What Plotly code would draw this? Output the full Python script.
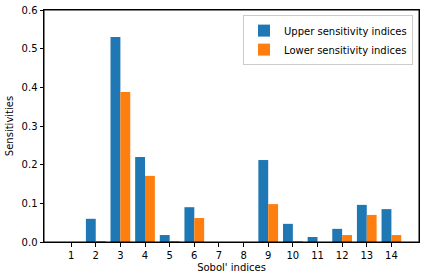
import plotly.graph_objects as go

indices = list(range(1, 15))
upper = [0.0, 0.06, 0.53, 0.22, 0.018, 0.09, 0.0, 0.0, 0.212, 0.047, 0.013, 0.034, 0.096, 0.085]
lower = [0.0, 0.002, 0.388, 0.171, 0.002, 0.062, 0.0, 0.0, 0.098, 0.002, 0.0, 0.018, 0.07, 0.018]
y_ticks = [0.0, 0.1, 0.2, 0.3, 0.4, 0.5, 0.6]

fig = go.Figure()
fig.add_trace(go.Bar(x=indices, y=upper, name="Upper sensitivity indices",
                     marker=dict(color="#1f77b4", line=dict(width=0)), width=0.4, offset=-0.4))
fig.add_trace(go.Bar(x=indices, y=lower, name="Lower sensitivity indices",
                     marker=dict(color="#ff7f0e", line=dict(width=0)), width=0.4, offset=0.0))

axis_common = dict(showline=True, linecolor="black", linewidth=1, mirror=True,
                   ticks="outside", ticklen=3.5, tickcolor="black", showgrid=False,
                   zeroline=False, tickfont=dict(size=10, color="black"), automargin=False)

fig.update_layout(
    width=424, height=280,
    margin=dict(l=44, r=5, t=10, b=38),
    paper_bgcolor="white", plot_bgcolor="white",
    font=dict(family="DejaVu Sans", size=10, color="black"),
    showlegend=True,
    legend=dict(x=0.984, y=0.978, xanchor="right", yanchor="top",
                bordercolor="#cccccc", borderwidth=1, bgcolor="rgba(255,255,255,0.8)",
                font=dict(size=10), tracegroupgap=0, itemwidth=30),
    xaxis=dict(range=[-0.1, 15.12], tickmode="array", tickvals=indices,
               ticktext=[str(i) for i in indices],
               title=dict(text="Sobol' indices", font=dict(size=10), standoff=4), **axis_common),
    yaxis=dict(range=[0, 0.6], tickmode="array", tickvals=y_ticks,
               ticktext=[f"{v:.1f}" for v in y_ticks],
               title=dict(text="Sensitivities", font=dict(size=10), standoff=6), **axis_common),
    shapes=[dict(type="rect", xref="paper", yref="paper", x0=0, x1=1, y0=0, y1=1,
                 line=dict(color="black", width=1), fillcolor="rgba(0,0,0,0)", layer="above")],
)

fig.write_html("out.html", config={"displayModeBar": False},
               post_script="document.body.style.margin='0';")
